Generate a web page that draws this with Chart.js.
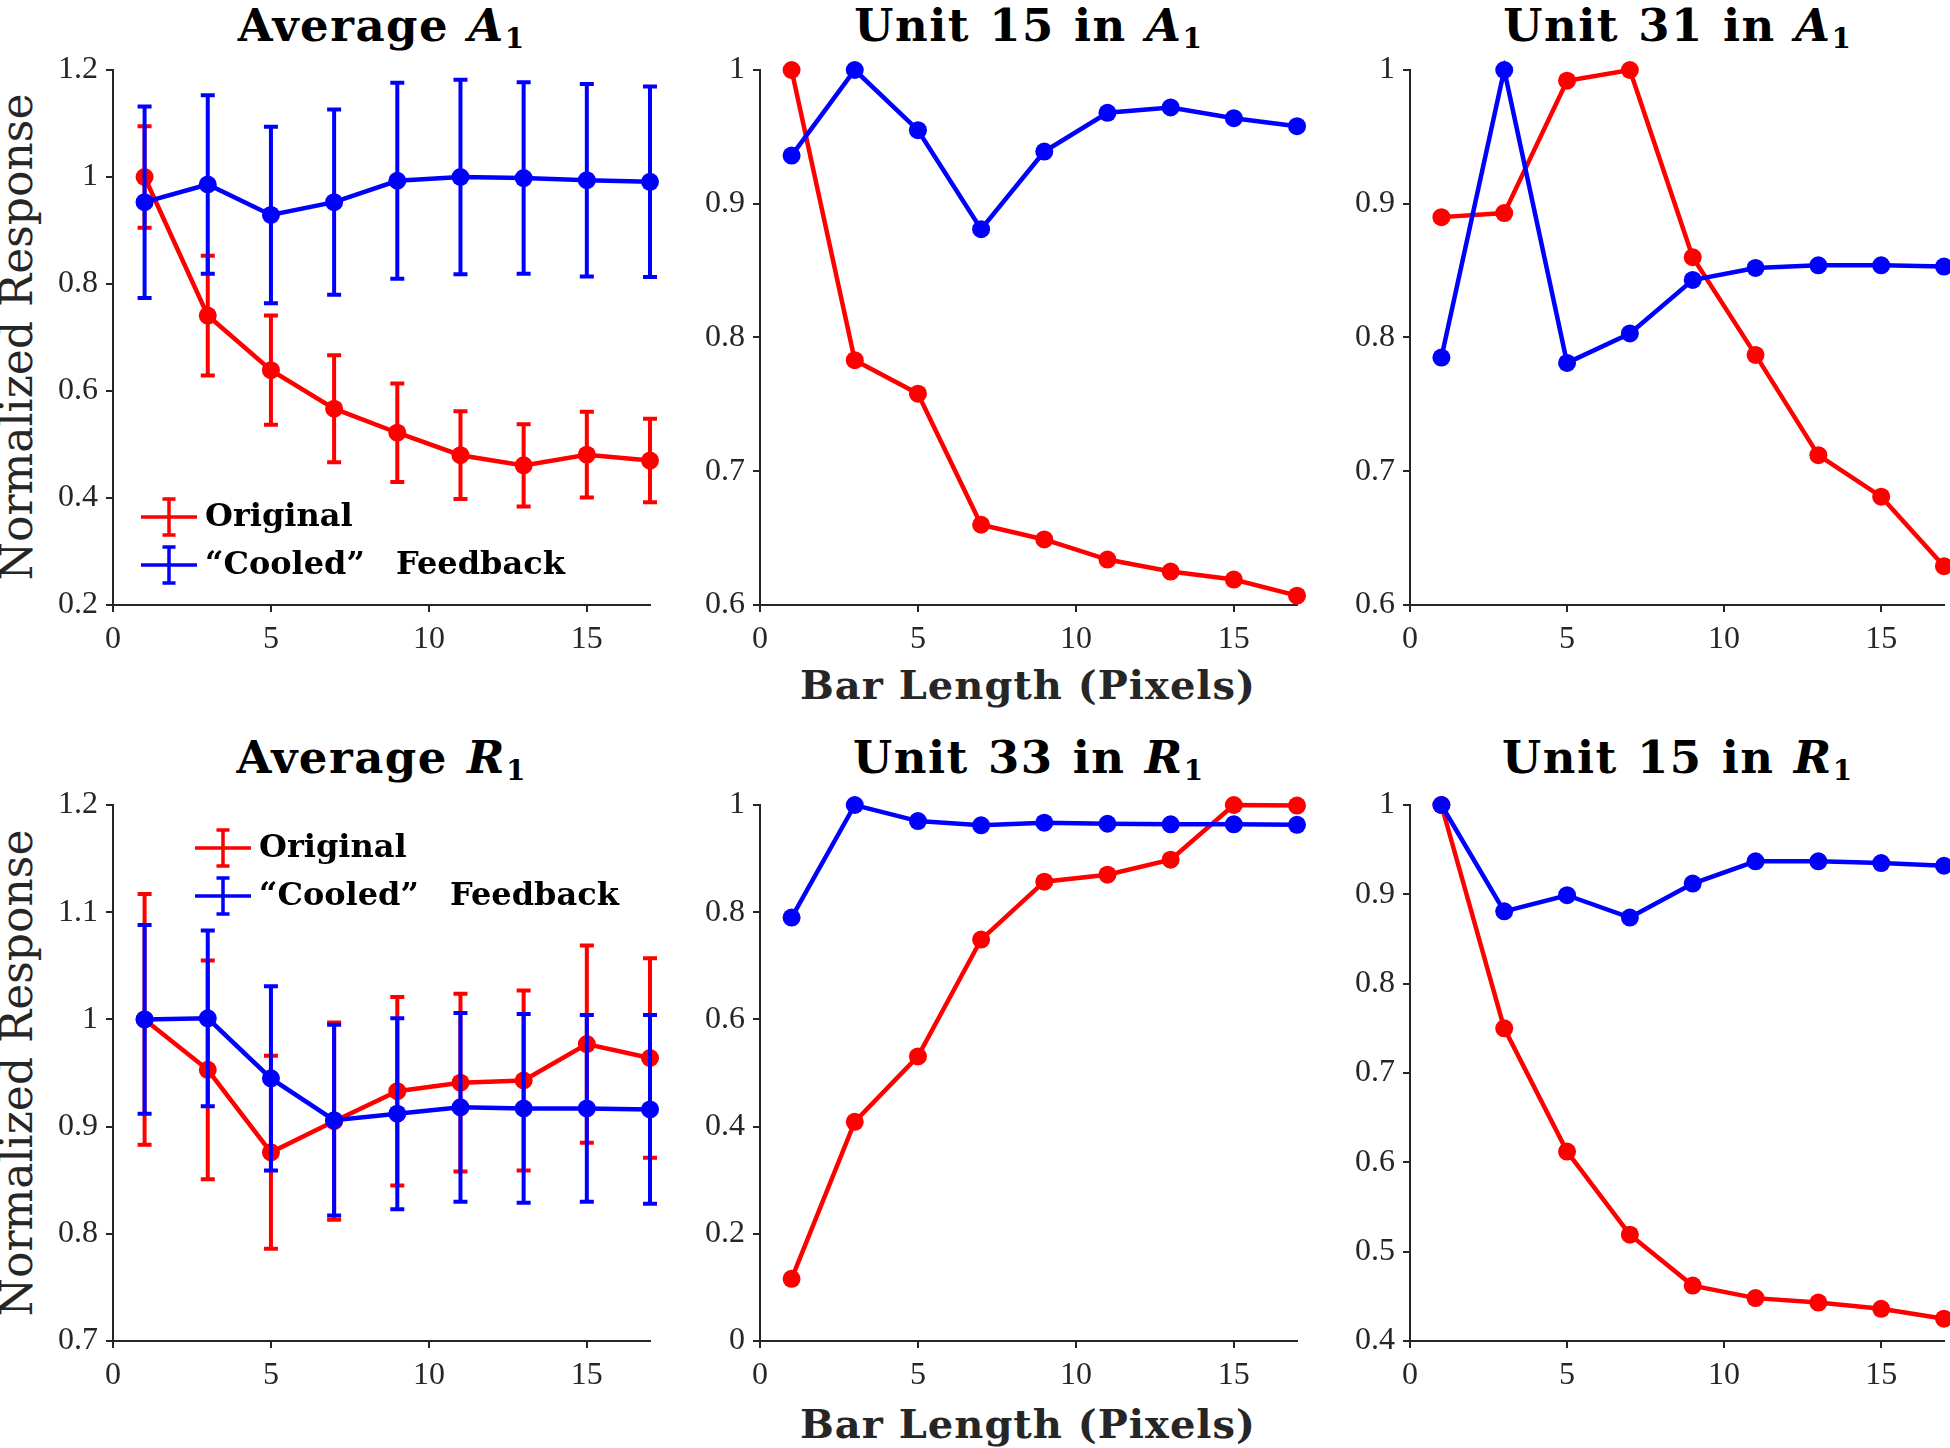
<!DOCTYPE html>
<html>
<head>
<meta charset="utf-8">
<script src="https://cdn.jsdelivr.net/npm/chart.js@4.4.1/dist/chart.umd.min.js"></script>
<style>
  body { margin: 0; background: #fff; width: 1950px; height: 1448px; overflow: hidden; position: relative; font-family: "DejaVu Serif", serif; }
  canvas { position: absolute; }
  .title, .xlabel, .ylabel { position: absolute; white-space: nowrap; line-height: 1; }
  .title { font-weight: bold; font-size: 45px; color: #000; transform: translate(-50%, -50%); letter-spacing: 1.5px; word-spacing: 2px; }
  .title sub { font-size: 0.62em; vertical-align: -0.28em; line-height: 0; letter-spacing: 0; }
  .xlabel { font-weight: bold; font-size: 40px; color: #262626; transform: translate(-50%, -50%); letter-spacing: 1px; }
  .ylabel { font-size: 44px; color: #262626; transform: translate(-50%, -50%) rotate(-90deg); }
</style>
</head>
<body>
<div class="title" style="left:381px; top:25px">Average <i>A</i><sub>1</sub></div>
<div class="title" style="left:1028px; top:25px">Unit 15 in <i>A</i><sub>1</sub></div>
<div class="title" style="left:1677px; top:25px">Unit 31 in <i>A</i><sub>1</sub></div>
<div class="title" style="left:381px; top:757px">Average <i>R</i><sub>1</sub></div>
<div class="title" style="left:1028px; top:757px">Unit 33 in <i>R</i><sub>1</sub></div>
<div class="title" style="left:1677px; top:757px">Unit 15 in <i>R</i><sub>1</sub></div>
<div class="xlabel" style="left:1028px; top:685px">Bar Length (Pixels)</div>
<div class="xlabel" style="left:1028px; top:1424px">Bar Length (Pixels)</div>
<div class="ylabel" style="left:17px; top:337px">Normalized Response</div>
<div class="ylabel" style="left:17px; top:1073px">Normalized Response</div>

<canvas id="avgA1"></canvas>
<canvas id="unit15A1"></canvas>
<canvas id="unit31A1"></canvas>
<canvas id="avgR1"></canvas>
<canvas id="unit33R1"></canvas>
<canvas id="unit15R1"></canvas>

<script>
// bar lengths tested (x axis)
const barLengths = [1, 3, 5, 7, 9, 11, 13, 15, 17];
const xTicks = [0, 5, 10, 15];

// Average A1 (mean +/- error)
const avgA1Original    = [1.000, 0.741, 0.639, 0.567, 0.522, 0.480, 0.461, 0.481, 0.470];
const avgA1OriginalErr = [0.095, 0.112, 0.102, 0.100, 0.092, 0.082, 0.077, 0.080, 0.078];
const avgA1Cooled      = [0.953, 0.986, 0.929, 0.953, 0.993, 1.000, 0.998, 0.994, 0.991];
const avgA1CooledErr   = [0.179, 0.167, 0.165, 0.173, 0.183, 0.182, 0.179, 0.180, 0.178];
const avgA1Ticks = [0.2, 0.4, 0.6, 0.8, 1.0, 1.2];

// single units in A1
const unit15A1Original = [1.000, 0.783, 0.758, 0.660, 0.649, 0.634, 0.625, 0.619, 0.607];
const unit15A1Cooled   = [0.936, 1.000, 0.955, 0.881, 0.939, 0.968, 0.972, 0.964, 0.958];
const unit31A1Original = [0.890, 0.893, 0.992, 1.000, 0.860, 0.787, 0.712, 0.681, 0.629];
const unit31A1Cooled   = [0.785, 1.000, 0.781, 0.803, 0.843, 0.852, 0.854, 0.854, 0.853];
const unitA1Ticks = [0.6, 0.7, 0.8, 0.9, 1.0];

// Average R1 (mean +/- error)
const avgR1Original    = [1.000, 0.953, 0.876, 0.905, 0.933, 0.941, 0.943, 0.977, 0.964];
const avgR1OriginalErr = [0.117, 0.102, 0.090, 0.092, 0.088, 0.083, 0.084, 0.092, 0.093];
const avgR1Cooled      = [1.000, 1.001, 0.945, 0.906, 0.912, 0.918, 0.917, 0.917, 0.916];
const avgR1CooledErr   = [0.088, 0.082, 0.086, 0.089, 0.089, 0.088, 0.088, 0.087, 0.088];
const avgR1Ticks = [0.7, 0.8, 0.9, 1.0, 1.1, 1.2];

// single units in R1
const unit33R1Original = [0.116, 0.409, 0.531, 0.749, 0.857, 0.870, 0.898, 1.000, 0.999];
const unit33R1Cooled   = [0.790, 1.000, 0.970, 0.962, 0.967, 0.965, 0.964, 0.964, 0.963];
const unit33R1Ticks = [0, 0.2, 0.4, 0.6, 0.8, 1.0];
const unit15R1Original = [1.000, 0.750, 0.612, 0.519, 0.462, 0.448, 0.443, 0.436, 0.425];
const unit15R1Cooled   = [1.000, 0.881, 0.899, 0.874, 0.912, 0.937, 0.937, 0.935, 0.932];
const unit15R1Ticks = [0.4, 0.5, 0.6, 0.7, 0.8, 0.9, 1.0];

const seriesNames = ['Original', '\u201CCooled\u201D Feedback'];
const RED = '#ff0000';
const BLUE = '#0000ff';
const AXIS = '#262626';

// space reserved around the plot area inside each canvas
const AXW = 100, AXH = 60, PADT = 40, PADR = 12;

// draws vertical error bars just before the dataset's own line
const errorBarPlugin = {
    id: 'errorBars',
    beforeDatasetDraw(chart, args) {
        const ds = chart.data.datasets[args.index];
        if (!ds.errors) return;
        const xs = chart.scales.x, ys = chart.scales.y, ctx = chart.ctx;
        ctx.save();
        ctx.strokeStyle = ds.borderColor;
        ctx.lineWidth = 4;
        ds.data.forEach((p, i) => {
            const px = xs.getPixelForValue(p.x);
            const top = ys.getPixelForValue(p.y + ds.errors[i]);
            const bot = ys.getPixelForValue(p.y - ds.errors[i]);
            ctx.beginPath();
            ctx.moveTo(px, top); ctx.lineTo(px, bot);
            ctx.moveTo(px - 7, top); ctx.lineTo(px + 7, top);
            ctx.moveTo(px - 7, bot); ctx.lineTo(px + 7, bot);
            ctx.stroke();
        });
        ctx.restore();
    }
};

// matlab-style legend: short line with an error bar through it
const errLegendPlugin = {
    id: 'errLegend',
    afterDraw(chart, args, opts) {
        if (!opts || opts.x === undefined) return;
        const ctx = chart.ctx;
        ctx.save();
        chart.data.datasets.slice().reverse().forEach((ds, k) => {
            const y = opts.y + k * opts.gap;
            const cx = opts.x + 28;
            ctx.strokeStyle = ds.borderColor;
            ctx.lineWidth = 3.5;
            ctx.beginPath();
            ctx.moveTo(opts.x, y); ctx.lineTo(opts.x + 56, y);
            ctx.moveTo(cx, y - 18); ctx.lineTo(cx, y + 18);
            ctx.moveTo(cx - 6.5, y - 18); ctx.lineTo(cx + 6.5, y - 18);
            ctx.moveTo(cx - 6.5, y + 18); ctx.lineTo(cx + 6.5, y + 18);
            ctx.stroke();
            ctx.fillStyle = '#000';
            ctx.font = 'bold 32px "DejaVu Serif"';
            ctx.textBaseline = 'middle';
            ctx.wordSpacing = '20px';
            ctx.fillText(ds.label, opts.x + 64, y + 1);
        });
        ctx.restore();
    }
};

function makeDataset(label, values, color, errors, order) {
    return {
        label: label,
        data: barLengths.map((x, i) => ({ x: x, y: values[i] })),
        errors: errors,
        borderColor: color,
        backgroundColor: color,
        pointBackgroundColor: color,
        pointBorderWidth: 0,
        pointRadius: 9,
        borderWidth: 4.5,
        showLine: true,
        tension: 0,
        clip: false,
        order: order
    };
}

function makePanel(id, area, yTicks, original, cooled, originalErr, cooledErr, legend) {
    const canvas = document.getElementById(id);
    const w = area.r - area.l + AXW + PADR;
    const h = area.b - area.t + PADT + AXH;
    canvas.width = w;
    canvas.height = h;
    canvas.style.left = (area.l - AXW) + 'px';
    canvas.style.top = (area.t - PADT) + 'px';

    const tickFont = { family: 'Liberation Serif', size: 32 };
    new Chart(canvas.getContext('2d'), {
        type: 'scatter',
        data: {
            datasets: [
                makeDataset(seriesNames[1], cooled, BLUE, cooledErr, 1),
                makeDataset(seriesNames[0], original, RED, originalErr, 2)
            ]
        },
        options: {
            responsive: false,
            animation: false,
            events: [],
            layout: { padding: { left: 0, top: PADT, right: PADR, bottom: 0 } },
            plugins: {
                legend: { display: false },
                tooltip: { enabled: false },
                errLegend: legend ? { x: legend.x - (area.l - AXW), y: legend.y - (area.t - PADT), gap: 48 } : {}
            },
            scales: {
                x: {
                    type: 'linear',
                    min: 0,
                    max: 17,
                    afterBuildTicks: (s) => { s.ticks = xTicks.map(v => ({ value: v })); },
                    afterFit: (s) => { s.height = AXH; },
                    grid: { display: true, drawOnChartArea: false, drawTicks: true, tickLength: 7, color: AXIS, lineWidth: 2 },
                    border: { display: true, color: AXIS, width: 2 },
                    ticks: { color: AXIS, font: tickFont, padding: 8, maxRotation: 0 }
                },
                y: {
                    type: 'linear',
                    min: yTicks[0],
                    max: yTicks[yTicks.length - 1],
                    afterBuildTicks: (s) => { s.ticks = yTicks.map(v => ({ value: v })); },
                    afterFit: (s) => { s.width = AXW; },
                    grid: { display: true, drawOnChartArea: false, drawTicks: true, tickLength: 7, color: AXIS, lineWidth: 2 },
                    border: { display: true, color: AXIS, width: 2 },
                    ticks: {
                        color: AXIS,
                        font: tickFont,
                        padding: 8,
                        callback: (v) => String(Number(v.toFixed(1)))
                    }
                }
            }
        },
        plugins: [errorBarPlugin, errLegendPlugin]
    });
}

const rowTop = { t: 70, b: 605 };
const rowBottom = { t: 805, b: 1341 };
const colLeft = { l: 113, r: 650 };
const colMid = { l: 760, r: 1297 };
const colRight = { l: 1410, r: 1944 };

makePanel('avgA1', Object.assign({}, colLeft, rowTop), avgA1Ticks,
    avgA1Original, avgA1Cooled, avgA1OriginalErr, avgA1CooledErr, { x: 141, y: 517 });
makePanel('unit15A1', Object.assign({}, colMid, rowTop), unitA1Ticks, unit15A1Original, unit15A1Cooled);
makePanel('unit31A1', Object.assign({}, colRight, rowTop), unitA1Ticks, unit31A1Original, unit31A1Cooled);
makePanel('avgR1', Object.assign({}, colLeft, rowBottom), avgR1Ticks,
    avgR1Original, avgR1Cooled, avgR1OriginalErr, avgR1CooledErr, { x: 195, y: 848 });
makePanel('unit33R1', Object.assign({}, colMid, rowBottom), unit33R1Ticks, unit33R1Original, unit33R1Cooled);
makePanel('unit15R1', Object.assign({}, colRight, rowBottom), unit15R1Ticks, unit15R1Original, unit15R1Cooled);
</script>
</body>
</html>
